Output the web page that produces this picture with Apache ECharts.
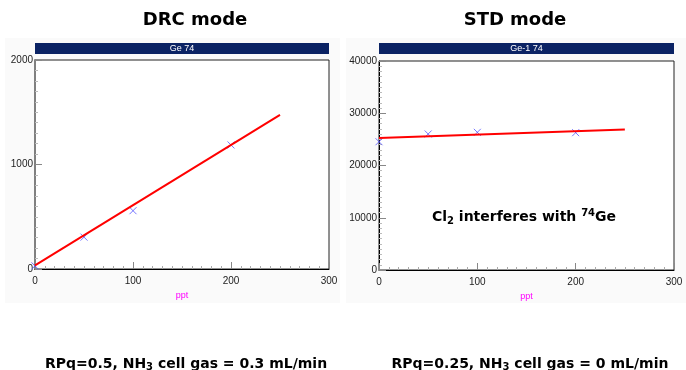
<!DOCTYPE html>
<html>
<head>
<meta charset="utf-8">
<script src="https://cdn.jsdelivr.net/npm/echarts@6/dist/echarts.min.js"></script>
<style>
  html, body { margin: 0; padding: 0; background: #fff; }
  #chart { width: 686px; height: 370px; }
</style>
</head>
<body>
<div id="chart"></div>
<script>
// DRC mode (left) – measured standards and fitted calibration line
const drcPoints = [[0, 30], [50, 305], [100, 558], [200, 1187]]
const drcFit = [[0, 35], [250, 1475]]

// STD mode (right)
const stdPoints = [[0, 24550], [50, 26030], [100, 26350], [200, 26280]]
const stdFit = [[0, 25250], [250, 26900]]

const xTicks = { min: 0, max: 300, interval: 100 }
const drcY = { min: 0, max: 2000, interval: 1000 }
const stdY = { min: 0, max: 40000, interval: 10000 }

const chart = echarts.init(document.getElementById('chart'))

const crossSymbol = 'path://M0,0L10,10M10,0L0,10'
const labelFont = { fontSize: 10, color: '#222', fontFamily: 'Arial, "Liberation Sans"' }
const boldFont = '"DejaVu Sans"'

const xAxisFor = (gridIndex) => ({
  gridIndex,
  type: 'value',
  ...xTicks,
  name: 'ppt',
  nameLocation: 'middle',
  nameGap: 21,
  nameTextStyle: { color: '#ff00ff', fontSize: 9, fontFamily: 'Arial' },
  axisLine: { show: true, lineStyle: { color: '#000', width: 1 } },
  axisTick: { inside: true, length: 7, lineStyle: { color: '#888' } },
  minorTick: { show: true, splitNumber: 10, length: 3, lineStyle: { color: '#aaa' } },
  splitLine: { show: false },
  axisLabel: { ...labelFont, margin: 7, formatter: (v) => String(v) },
})

const yAxisFor = (gridIndex, range, lineColor, lineWidth) => ({
  gridIndex,
  type: 'value',
  ...range,
  axisLine: { show: true, lineStyle: { color: lineColor, width: lineWidth } },
  axisTick: { inside: true, length: 7, lineStyle: { color: '#888' } },
  minorTick: { show: true, splitNumber: 10, length: 3, lineStyle: { color: '#bbb' } },
  splitLine: { show: false },
  axisLabel: { ...labelFont, margin: 2, formatter: (v) => String(v) },
})

const scatterFor = (idx, data) => ({
  type: 'scatter',
  xAxisIndex: idx,
  yAxisIndex: idx,
  data,
  symbol: crossSymbol,
  symbolSize: 7,
  itemStyle: { color: 'transparent', borderColor: '#5555ff', borderWidth: 1 },
  z: 3,
})

const fitFor = (idx, data) => ({
  type: 'line',
  xAxisIndex: idx,
  yAxisIndex: idx,
  data,
  showSymbol: false,
  symbol: 'none',
  lineStyle: { color: '#ff0000', width: 2 },
  z: 4,
})

const banner = (x, w, label) => [
  { type: 'rect', shape: { x, y: 43, width: w, height: 11 }, style: { fill: '#0b2364' }, z: 5 },
  {
    type: 'text', x: x + w / 2, y: 49, z: 6,
    style: { text: label, fill: '#fff', font: '9px Arial', textAlign: 'center', textVerticalAlign: 'middle' },
  },
]

const heading = (x, y, text, size) => ({
  type: 'text', x, y, z: 6,
  style: { text, fill: '#000', font: `bold ${size}px ${boldFont}`, textAlign: 'center', textVerticalAlign: 'middle' },
})

chart.setOption({
  animation: false,
  backgroundColor: '#fff',
  grid: [
    { left: 35, top: 60, width: 294, height: 209, show: true, backgroundColor: '#fff', borderColor: '#222', borderWidth: 1 },
    { left: 379, top: 61, width: 295, height: 209, show: true, backgroundColor: '#fff', borderColor: '#222', borderWidth: 1 },
  ],
  xAxis: [xAxisFor(0), xAxisFor(1)],
  yAxis: [yAxisFor(0, drcY, '#808080', 2), yAxisFor(1, stdY, '#000', 1)],
  series: [
    fitFor(0, drcFit),
    scatterFor(0, drcPoints),
    fitFor(1, stdFit),
    scatterFor(1, stdPoints),
  ],
  graphic: [
    { type: 'rect', shape: { x: 5, y: 38, width: 335, height: 265 }, style: { fill: '#fafafa' }, z: -10, silent: true },
    { type: 'rect', shape: { x: 346, y: 38, width: 340, height: 265 }, style: { fill: '#fafafa' }, z: -10, silent: true },
    ...banner(35, 294, 'Ge 74'),
    ...banner(379, 295, 'Ge-1 74'),
    heading(195, 20, 'DRC mode', 18),
    heading(515, 20, 'STD mode', 18),
    {
      type: 'text', x: 524, y: 217, z: 6,
      style: {
        text: '{b|Cl}{sub|2}{b| interferes with }{sup|74}{b|Ge}',
        textAlign: 'center', textVerticalAlign: 'middle',
        rich: {
          b: { fontSize: 14, fontWeight: 'bold', fontFamily: boldFont, fill: '#000', lineHeight: 22 },
          sub: { fontSize: 10, fontWeight: 'bold', fontFamily: boldFont, fill: '#000', padding: [8, 0, 0, 0] },
          sup: { fontSize: 10, fontWeight: 'bold', fontFamily: boldFont, fill: '#000', padding: [0, 0, 8, 0] },
        },
      },
    },
    {
      type: 'text', x: 186, y: 364, z: 6,
      style: {
        text: '{b|RPq=0.5, NH}{sub|3}{b| cell gas = 0.3 mL/min}',
        textAlign: 'center', textVerticalAlign: 'middle',
        rich: {
          b: { fontSize: 14, fontWeight: 'bold', fontFamily: boldFont, fill: '#000', lineHeight: 20 },
          sub: { fontSize: 10, fontWeight: 'bold', fontFamily: boldFont, fill: '#000', padding: [7, 0, 0, 0] },
        },
      },
    },
    {
      type: 'text', x: 530, y: 364, z: 6,
      style: {
        text: '{b|RPq=0.25, NH}{sub|3}{b| cell gas = 0 mL/min}',
        textAlign: 'center', textVerticalAlign: 'middle',
        rich: {
          b: { fontSize: 14, fontWeight: 'bold', fontFamily: boldFont, fill: '#000', lineHeight: 20 },
          sub: { fontSize: 10, fontWeight: 'bold', fontFamily: boldFont, fill: '#000', padding: [7, 0, 0, 0] },
        },
      },
    },
  ],
})
</script>
</body>
</html>
